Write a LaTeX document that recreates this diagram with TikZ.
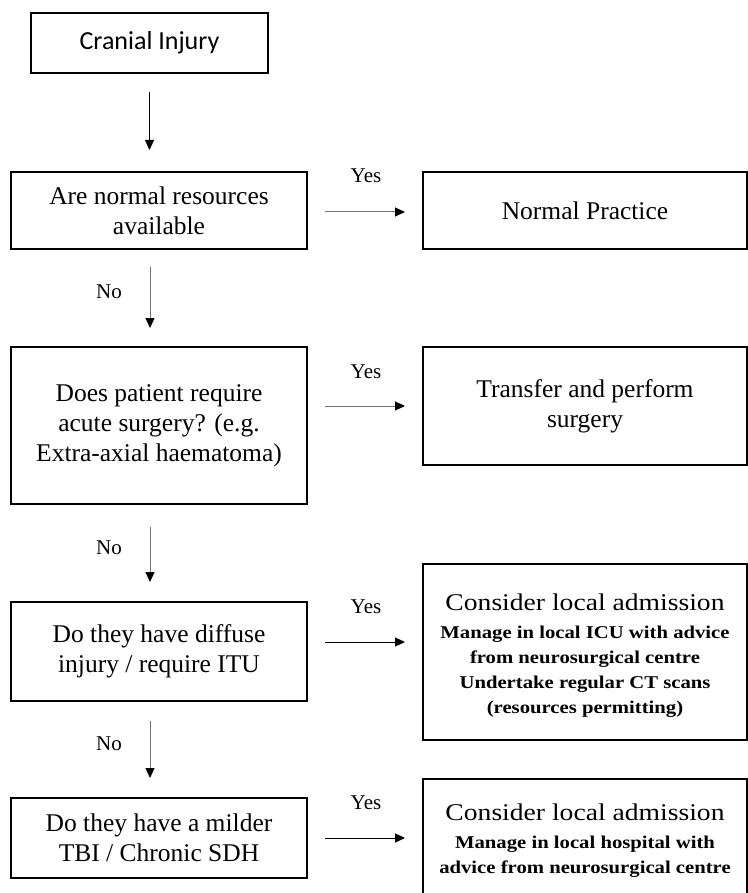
\documentclass[tikz,border=0pt]{standalone}
\usepackage{fontspec}
\setmainfont{Liberation Serif}
\newfontfamily\calib{Carlito}
\newfontfamily\cam[FakeStretch=1.15]{Liberation Serif}
\usetikzlibrary{arrows.meta}
\begin{document}
\begin{tikzpicture}[x=1pt,y=-1pt,
  box/.style={draw, line width=2.4pt, inner sep=0pt, outer sep=0pt, align=center,
    font=\fontsize{25.5}{30}\selectfont},
  rtext/.style={align=center, inner sep=0pt, font=\cam\bfseries\fontsize{18}{25}\selectfont},
  lbl/.style={font=\fontsize{21}{24}\selectfont, inner sep=0pt},
  arr/.style={-{Triangle[length=10pt,width=9pt,color=black]}, line width=1pt},
  garr/.style={arr, draw=black!55}
]
\useasboundingbox (0,0) rectangle (747,893);

% left column
\node[box, minimum width=237pt, minimum height=60pt, font=\calib\fontsize{26}{30}\selectfont] (cran) at (149.5,43) {Cranial Injury};
\node[box, minimum width=296pt, minimum height=77pt] (q1) at (159,210.5) {Are normal resources\\available};
\node[box, minimum width=296pt, minimum height=157pt] (q2) at (159,425.5) {Does patient require\\acute surgery? (e.g.\\Extra-axial haematoma)};
\node[box, minimum width=296pt, minimum height=99pt] (q3) at (159,651.5) {Do they have diffuse\\injury / require ITU};
\node[box, minimum width=296pt, minimum height=80pt] (q4) at (159,838) {Do they have a milder\\TBI / Chronic SDH};

% right column
\node[box, minimum width=324pt, minimum height=77pt] (np) at (585,210.5) {Normal Practice};
\node[box, minimum width=324pt, minimum height=118pt] (tr) at (585,406) {Transfer and perform\\surgery};
\node[box, minimum width=324pt, minimum height=176pt] (c1) at (585,652) {};
\node[rtext] (c1t) at (585,656) {{\mdseries\fontsize{24}{25}\selectfont Consider local admission}\\[3pt]Manage in local ICU with advice\\from neurosurgical centre\\Undertake regular CT scans\\(resources permitting)};
\node[box, minimum width=324pt, minimum height=141pt, anchor=north] (c2) at (585,779) {};
\node[rtext] (c2t) at (585,841) {{\mdseries\fontsize{24}{25}\selectfont Consider local admission}\\[3pt]Manage in local hospital with\\advice from neurosurgical centre};

% down arrows
\draw[arr, shorten <=19pt, shorten >=22pt] (cran.south) -- (cran.south |- q1.north);
\draw[garr, shorten <=18pt, shorten >=19pt] ([xshift=-9pt]q1.south) -- ([xshift=-9pt]q2.north);
\draw[garr, shorten <=23pt, shorten >=20pt] ([xshift=-9pt]q2.south) -- ([xshift=-9pt]q3.north);
\draw[garr, shorten <=20pt, shorten >=20pt] ([xshift=-9pt]q3.south) -- ([xshift=-9pt]q4.north);

% yes arrows
\draw[garr, shorten <=18pt, shorten >=18pt] ([yshift=-1.5pt]q1.east) -- ([yshift=-1.5pt]q1.east -| np.west);
\draw[garr, shorten <=18pt, shorten >=18pt] (q2.east |- tr.west) -- (tr.west);
\draw[arr, shorten <=18pt, shorten >=18pt] ([yshift=9.5pt]q3.east) -- ([yshift=9.5pt]q3.east -| c1.west);
\draw[arr, shorten <=18pt, shorten >=18pt] (q4.east) -- (q4.east -| c2.west);

% labels
\node[lbl] (y1) at (366,176) {Yes};
\node[lbl] (y2) at (366,372) {Yes};
\node[lbl] (y3) at (366,607) {Yes};
\node[lbl] (y4) at (366,803) {Yes};
\node[lbl] (n1) at (109,292) {No};
\node[lbl] (n2) at (109,548) {No};
\node[lbl] (n3) at (109,744) {No};
\end{tikzpicture}
\end{document}
